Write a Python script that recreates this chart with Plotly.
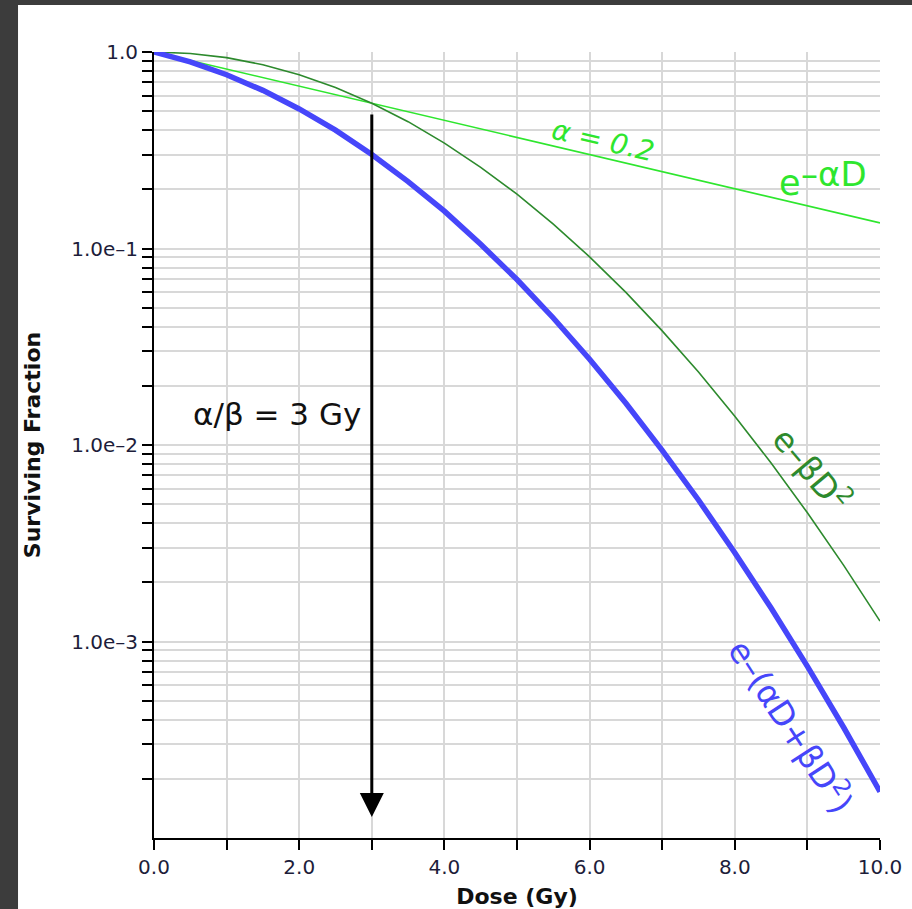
import math
import plotly.graph_objects as go

# ---- data ----
dose = [0.0, 0.5, 1.0, 1.5, 2.0, 2.5, 3.0, 3.5, 4.0, 4.5, 5.0,
        5.5, 6.0, 6.5, 7.0, 7.5, 8.0, 8.5, 9.0, 9.5, 10.0]
sf_alpha = [1.0, 0.905, 0.819, 0.741, 0.670, 0.607, 0.549, 0.497, 0.449, 0.407, 0.368,
            0.333, 0.301, 0.273, 0.247, 0.223, 0.202, 0.183, 0.165, 0.150, 0.135]
sf_beta = [1.0, 0.983, 0.936, 0.861, 0.766, 0.659, 0.549, 0.442, 0.344, 0.259, 0.189,
           0.133, 0.0907, 0.0598, 0.0381, 0.0235, 0.0140, 0.00810, 0.00452, 0.00244, 0.00127]
sf_lq = [1.0, 0.890, 0.766, 0.638, 0.513, 0.400, 0.301, 0.219, 0.155, 0.105, 0.0695,
         0.0443, 0.0273, 0.0163, 0.00940, 0.00525, 0.00283, 0.00148, 0.000747, 0.000365, 0.000172]

x_tickvals = [0, 1, 2, 3, 4, 5, 6, 7, 8, 9, 10]
x_ticktext = ["0.0", "", "2.0", "", "4.0", "", "6.0", "", "8.0", "", "10.0"]

y_decades = [-4, -3, -2, -1]
y_decade_labels = {-3: "1.0e\u20133", -2: "1.0e\u20132", -1: "1.0e\u20131", 0: "1.0"}

arrow_dose = 3.0
arrow_top_sf = 0.49
arrow_tip_sf = 1.28e-4

# ---- build y ticks ----
y_tickvals, y_ticktext = [], []
for d in y_decades:
    for k in range(1, 10):
        if d == -4 and k == 1:
            continue
        y_tickvals.append(k * 10.0 ** d)
        y_ticktext.append(y_decade_labels.get(d, "") if k == 1 else "")
y_tickvals.append(1.0)
y_ticktext.append(y_decade_labels[0])

LIGHT = "#2ee62e"
DARK = "#2d8a2d"
BLUE = "#4646fa"
FONT = "DejaVu Sans"

fig = go.Figure()
fig.add_trace(go.Scatter(x=dose, y=sf_alpha, mode="lines",
                         line=dict(color=LIGHT, width=1.6), showlegend=False))
fig.add_trace(go.Scatter(x=dose, y=sf_beta, mode="lines",
                         line=dict(color=DARK, width=1.6), showlegend=False))
fig.add_trace(go.Scatter(x=dose, y=sf_lq, mode="lines",
                         line=dict(color=BLUE, width=5.5), showlegend=False))

L = math.log10

annotations = [
    # arrow
    dict(x=arrow_dose, y=L(arrow_tip_sf), ax=arrow_dose, ay=L(arrow_top_sf),
         xref="x", yref="y", axref="x", ayref="y", text="", showarrow=True,
         arrowhead=2, arrowsize=1.6, arrowwidth=3, arrowcolor="black", standoff=0),
    dict(x=1.69, y=-1.842, xref="x", yref="y", text="\u03b1/\u03b2 = 3 Gy", showarrow=False,
         font=dict(family=FONT, size=31, color="#111111")),
    dict(x=6.18, y=-0.449, xref="x", yref="y", text="<i>\u03b1 = 0.2</i>", showarrow=False,
         textangle=13, font=dict(family=FONT, size=28, color=LIGHT)),
    dict(x=8.76, y=-0.668, xref="x", yref="y", text="e", showarrow=False,
         font=dict(family=FONT, size=35, color=LIGHT)),
    dict(x=9.36, y=-0.62, xref="x", yref="y", text="\u2013\u03b1D", showarrow=False,
         font=dict(family=FONT, size=34, color=LIGHT)),
    dict(x=9.06, y=-2.122, xref="x", yref="y", text="e\u2013\u03b2D<sup>2</sup>", showarrow=False,
         textangle=50, font=dict(family=FONT, size=33, color=DARK)),
    dict(x=8.80, y=-3.43, xref="x", yref="y", text="e\u2013(\u03b1D+\u03b2D<sup>2</sup>)", showarrow=False,
         textangle=57, font=dict(family=FONT, size=33, color=BLUE)),
]

fig.update_layout(
    width=912, height=909,
    margin=dict(l=154, r=32, t=52, b=71),
    paper_bgcolor="#3c3c3c",
    plot_bgcolor="white",
    showlegend=False,
    annotations=annotations,
    shapes=[dict(type="rect", xref="paper", yref="paper",
                 x0=-0.1873, x1=1.2, y0=-0.2, y1=1.0598,
                 fillcolor="white", line=dict(width=0), layer="below")],
    xaxis=dict(
        range=[0, 10], tickvals=x_tickvals, ticktext=x_ticktext, automargin=False,
        ticks="outside", ticklen=10, tickwidth=1.5, tickcolor="black",
        showline=True, linecolor="black", linewidth=2,
        showgrid=True, gridcolor="#d8d8d8", gridwidth=1.5, zeroline=False,
        tickfont=dict(family=FONT, size=20, color="#1d1d3a"),
        title=dict(text="<b>Dose (Gy)</b>", standoff=14,
                   font=dict(family=FONT, size=22, color="#111111")),
    ),
    yaxis=dict(
        type="log", range=[-4, 0], tickvals=y_tickvals, ticktext=y_ticktext, automargin=False,
        ticks="outside", ticklen=10, tickwidth=1.5, tickcolor="black",
        showline=True, linecolor="black", linewidth=2,
        showgrid=True, gridcolor="#d8d8d8", gridwidth=1.5, zeroline=False,
        tickfont=dict(family=FONT, size=20, color="#1d1d3a"),
        title=dict(text="<b>Surviving Fraction</b>", standoff=24,
                   font=dict(family=FONT, size=22, color="#111111")),
    ),
)

fig.write_html("out.html", config={"displayModeBar": False},
               post_script="document.body.style.margin='0';document.body.style.overflow='hidden';")
